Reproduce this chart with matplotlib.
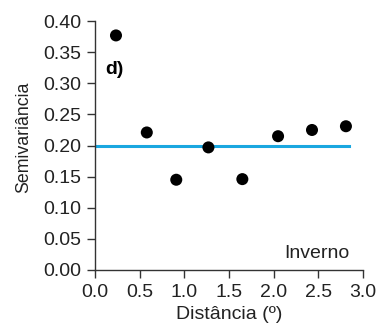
import matplotlib
matplotlib.use("Agg")
import matplotlib.pyplot as plt

plt.rcParams['font.family'] = ['Liberation Sans', 'DejaVu Sans']

# Semivariogram points (winter)
distance = [0.235, 0.58, 0.91, 1.27, 1.65, 2.05, 2.43, 2.81]
semivariance = [0.377, 0.221, 0.145, 0.197, 0.146, 0.215, 0.225, 0.231]

# Fitted pure-nugget model
model_x = [0.0, 2.84]
model_y = [0.20, 0.20]

xticks = [0.0, 0.5, 1.0, 1.5, 2.0, 2.5, 3.0]
yticks = [0.00, 0.05, 0.10, 0.15, 0.20, 0.25, 0.30, 0.35, 0.40]

FS = 14

fig = plt.figure(figsize=(3.8, 3.3), dpi=100)
ax = fig.add_axes([0.25, 0.182, 0.705, 0.754])

ax.plot(model_x, model_y, color='#1aa7e0', lw=2.2, zorder=2)
ax.scatter(distance, semivariance, s=75, color='black', zorder=3, edgecolors='none')

ax.set_xlim(0, 3.0)
ax.set_ylim(0, 0.40)
ax.set_xticks(xticks)
ax.set_xticklabels([f"{v:.1f}" for v in xticks])
ax.set_yticks(yticks)
ax.set_yticklabels([f"{v:.2f}" for v in yticks])

for s in ('top', 'right'):
    ax.spines[s].set_visible(False)
for s in ('left', 'bottom'):
    ax.spines[s].set_linewidth(1.0)
    ax.spines[s].set_color('#333333')

ax.tick_params(direction='out', length=6, width=1, labelsize=FS, colors='#333333',
               labelcolor='#222222', pad=4)

ax.set_xlabel('Distância (º)', fontsize=FS, color='#222222', labelpad=4)
ax.set_ylabel('Semivariância', fontsize=12.8, color='#222222')
ax.yaxis.set_label_coords(-0.235, 0.534)

ax.text(0.11, 0.322, 'd)', fontsize=FS, fontweight='bold', ha='left', va='center')
ax.text(2.49, 0.026, 'Inverno', fontsize=FS, ha='center', va='center', color='#222222')

fig.savefig('out.png', dpi=100)
